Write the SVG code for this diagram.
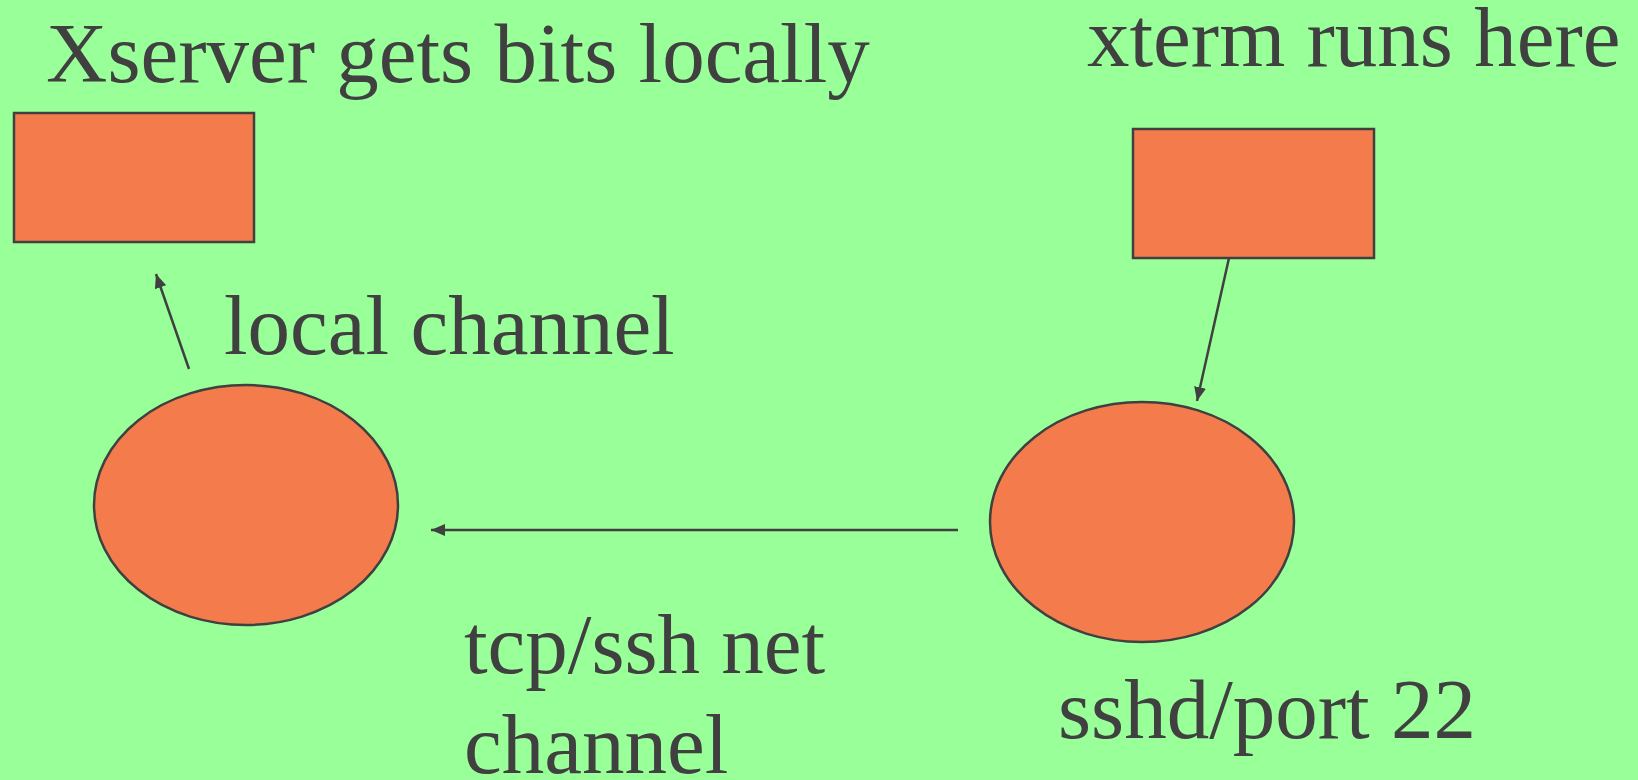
<svg xmlns="http://www.w3.org/2000/svg" width="1638" height="780" viewBox="0 0 1638 780">
<style>
.shape{fill:#F47C4C;stroke:#404040;stroke-width:2.5}
.lbl{font-family:"Liberation Serif","Times New Roman",serif;font-size:85px;fill:#404040}
.conn{stroke:#404040;stroke-width:2.5;fill:none}
</style>
<defs>
<marker id="ah" markerUnits="userSpaceOnUse" markerWidth="14" markerHeight="12" refX="14" refY="6" orient="auto">
<path d="M0,0 L14,6 L0,12 z" fill="#404040"/>
</marker>
</defs>
<rect width="1638" height="780" fill="#99FF99"/>
<g id="xserver-box">
<rect class="shape" x="14" y="113" width="240" height="129"/>
<text class="lbl" x="46" y="82">Xserver gets bits locally</text>
</g>
<g id="xterm-box">
<rect class="shape" x="1133" y="129" width="241" height="129"/>
<text class="lbl" x="1087" y="66">xterm runs here</text>
</g>
<g id="local-ellipse">
<ellipse class="shape" cx="246" cy="505" rx="152" ry="120"/>
</g>
<g id="sshd-ellipse">
<ellipse class="shape" cx="1142" cy="522" rx="152" ry="120"/>
<text class="lbl" x="1058" y="738">sshd/port 22</text>
</g>
<g id="connectors">
<line class="conn" x1="189" y1="369" x2="156" y2="274" marker-end="url(#ah)"/>
<line class="conn" x1="1229" y1="258" x2="1197" y2="401" marker-end="url(#ah)"/>
<line class="conn" x1="958" y1="530" x2="431" y2="530" marker-end="url(#ah)"/>
</g>
<g id="labels">
<text class="lbl" x="224" y="354">local channel</text>
<text class="lbl" x="464" y="673">tcp/ssh net</text>
<text class="lbl" x="464" y="773">channel</text>
</g>
</svg>
